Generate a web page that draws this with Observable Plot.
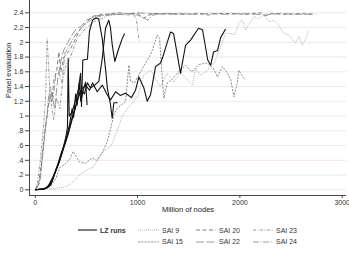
<!DOCTYPE html>
<html><head><meta charset="utf-8">
<script src="https://cdn.jsdelivr.net/npm/d3@7"></script>
<script src="https://cdn.jsdelivr.net/npm/@observablehq/plot@0.6"></script>
<style>
body{margin:0;background:#fff;}
#chart svg{display:block}
#legend{position:relative;width:349px;height:38px;font-family:"Liberation Sans",Arial,sans-serif;font-size:7px;color:#333}
#legend .item{position:absolute;display:flex;align-items:center;height:10px;white-space:nowrap}
#legend svg{display:block;margin-right:3px}
</style></head><body>
<div id="chart"></div>
<div id="legend"></div>
<script>
// ---- data (million of nodes, panel evaluation) ----
const lzRun1 = [[0,0],[80,0.01],[140,0.05],[190,0.22],[230,0.36],[270,0.55],[300,0.72],[315,0.85],[322,1.78],[332,1.0],[360,1.05],[390,1.2],[420,1.35],[443,1.58],[452,1.13],[465,1.76],[510,1.77],[530,2.15],[560,2.3],[590,2.33],[620,2.32],[655,2.05],[690,1.6],[705,1.38],[736,1.15],[752,0.97],[768,1.18],[805,1.18]];
const lzRun2 = [[0,0],[90,0.01],[150,0.06],[200,0.25],[240,0.4],[280,0.58],[320,0.75],[360,0.98],[390,1.1],[420,1.25],[450,1.35],[480,1.3],[510,1.45],[540,1.38],[580,1.42],[622,1.47],[655,1.78],[687,2.19],[719,2.3],[735,2.2],[753,1.96],[778,1.74],[817,1.92],[850,2.05],[873,2.12]];
const lzRun3 = [[0,0],[100,0.02],[160,0.1],[210,0.3],[250,0.45],[290,0.62],[330,0.8],[370,1.0],[400,1.15],[430,1.3],[460,1.38],[492,1.42],[530,1.35],[560,1.45],[606,1.33],[655,1.42],[700,1.3],[736,1.22],[786,1.33],[830,1.28],[883,1.31],[940,1.25],[980,1.35],[1013,1.53],[1062,1.38],[1095,1.2],[1127,1.29],[1176,1.67],[1225,1.72],[1244,1.79],[1290,2.0],[1323,2.14],[1352,2.12],[1420,1.58],[1469,1.96],[1518,2.03],[1596,2.19],[1635,2.17],[1686,1.76],[1715,1.69],[1743,1.87],[1782,1.89],[1811,2.06],[1860,2.18]];
const lzRun4 = [[0,0],[70,0.01],[120,0.03],[175,0.18],[215,0.32],[255,0.5],[295,0.66],[335,0.88],[360,1.1],[375,0.98],[395,1.3],[410,1.15],[430,1.45],[445,1.2],[470,1.35],[492,1.46],[507,1.15]];
const sai9 = [[0,0],[100,0.01],[200,0.02],[300,0.04],[350,0.08],[400,0.15],[450,0.22],[500,0.27],[560,0.3],[620,0.42],[660,0.52],[700,0.55],[750,0.62],[800,0.8],[850,1.0],[900,1.1],[950,1.18],[1000,1.26],[1062,1.56],[1127,1.62],[1180,1.5],[1225,1.4],[1290,1.58],[1355,1.46],[1388,1.53],[1420,1.6],[1480,1.5],[1535,1.42],[1567,1.65],[1620,1.55],[1681,1.62],[1714,1.69],[1750,1.72],[1780,1.83],[1860,2.12],[1911,2.12],[1950,2.1],[1990,2.26],[2024,2.3],[2056,2.17],[2090,2.25],[2137,2.35],[2186,2.32],[2235,2.37],[2284,2.28],[2329,2.3],[2381,2.23],[2430,2.12],[2476,2.1],[2544,1.99],[2577,2.08],[2610,1.96],[2642,2.05],[2675,2.17]];
const sai15 = [[0,0],[80,0.01],[150,0.05],[200,0.15],[240,0.3],[300,0.36],[340,0.42],[370,0.52],[400,0.45],[430,0.38],[490,0.36],[557,0.43],[600,0.4],[655,0.5],[704,0.65],[740,0.85],[770,1.02],[800,1.1],[840,1.15],[883,1.2],[915,1.69],[932,1.47],[970,1.45],[1000,1.53],[1030,1.6],[1078,1.72],[1127,1.83],[1160,1.96],[1193,2.1],[1215,2.05],[1240,1.55],[1257,1.24],[1290,1.45],[1340,1.5],[1400,1.6],[1470,1.69],[1530,1.6],[1600,1.7],[1681,1.72],[1740,1.65],[1782,1.53],[1830,1.67],[1870,1.6],[1910,1.5],[1941,1.26],[1975,1.45],[1990,1.62],[2020,1.55],[2056,1.49]];
const sai20 = [[0,0],[30,0.05],[60,0.35],[90,0.75],[120,1.05],[140,1.3],[160,1.2],[185,1.5],[210,1.62],[231,1.87],[250,1.6],[280,1.8],[300,1.83],[340,1.9],[362,1.96],[394,2.05],[443,2.19],[492,2.26],[557,2.35],[620,2.37],[700,2.38],[800,2.4],[900,2.39],[1000,2.39],[1060,2.33],[1100,2.36],[1150,2.39],[1300,2.39],[1450,2.38],[1600,2.39],[1700,2.37],[1760,2.39],[1900,2.39],[2050,2.38],[2200,2.4],[2250,2.36],[2300,2.39],[2450,2.38],[2600,2.39],[2740,2.38]];
const sai22 = [[0,0],[40,0.08],[70,0.45],[100,0.85],[130,1.15],[160,1.3],[190,1.1],[220,1.5],[250,1.75],[280,1.9],[320,2.0],[360,2.1],[400,2.18],[450,2.22],[500,2.3],[550,2.33],[600,2.36],[700,2.38],[850,2.38],[1000,2.4],[1100,2.39],[1250,2.38],[1400,2.39],[1550,2.38],[1700,2.39],[1850,2.38],[2000,2.39],[2150,2.38],[2250,2.37],[2400,2.39],[2550,2.38],[2700,2.38]];
const sai23 = [[0,0],[20,0.08],[50,0.4],[80,0.85],[100,1.22],[117,2.05],[133,1.6],[150,1.22],[180,0.95],[210,1.25],[240,1.1],[270,1.5],[300,1.7],[330,1.75],[370,1.9],[410,2.05],[450,2.12],[500,2.2],[550,2.25],[600,2.3],[650,2.32],[700,2.36],[800,2.38],[900,2.37],[960,2.38],[990,2.3],[1000,2.18],[1015,2.02]];
const sai24 = [[0,0],[30,0.1],[52,0.16],[68,0.38],[84,0.61],[100,0.83],[117,1.06],[133,1.29],[150,1.4],[170,1.2],[200,1.55],[231,1.6],[260,1.45],[290,1.85],[330,1.95],[370,2.05],[420,2.15],[470,2.22],[520,2.28],[560,2.32],[620,2.35],[700,2.37],[800,2.38],[900,2.39],[1000,2.37],[1100,2.3],[1150,2.37],[1250,2.39],[1350,2.38],[1450,2.39]];

const yTicks = [0,0.2,0.4,0.6,0.8,1,1.2,1.4,1.6,1.8,2,2.2,2.4];
const yTickLabels = ["0",".2",".4",".6",".8","1","1.2","1.4","1.6","1.8","2","2.2","2.4"];
const xTicks = [0,1000,2000,3000];
const xTitle = "Million of nodes";
const yTitle = "Panel evaluation";
const legendNames = ["LZ runs","SAI 9","SAI 20","SAI 23","SAI 15","SAI 22","SAI 24"];

// ---- styles ----
const styles = {
  "LZ runs": {stroke:"#111", strokeWidth:1.1, dash:null},
  "SAI 9":  {stroke:"#b5b5b5", strokeWidth:1, dash:"1,1"},
  "SAI 15": {stroke:"#8a8a8a", strokeWidth:1, dash:"2,1.3"},
  "SAI 20": {stroke:"#7e7e7e", strokeWidth:1, dash:"4,2.5"},
  "SAI 22": {stroke:"#9a9a9a", strokeWidth:1, dash:"8,2.5"},
  "SAI 23": {stroke:"#9a9a9a", strokeWidth:1, dash:"3,1.5,1,1.5"},
  "SAI 24": {stroke:"#9a9a9a", strokeWidth:1, dash:"6,1.5,1,1.5"}
};
const series = [
  ["SAI 22", sai22], ["SAI 20", sai20], ["SAI 24", sai24], ["SAI 23", sai23],
  ["SAI 9", sai9], ["SAI 15", sai15],
  ["LZ runs", lzRun4], ["LZ runs", lzRun3], ["LZ runs", lzRun2], ["LZ runs", lzRun1]
];
const labelMap = new Map(yTicks.map((t,i)=>[t, yTickLabels[i]]));
const xDomain = [-56, 3042], yDomain = [-0.077, 2.567];

const lineMarks = series.map(([name, pts]) => {
  const s = styles[name];
  return Plot.line(pts, {x: d=>d[0], y: d=>d[1], stroke: s.stroke, strokeWidth: s.strokeWidth,
    strokeDasharray: s.dash || undefined, strokeLinejoin:"round", strokeLinecap:"butt"});
});

const chart = Plot.plot({
  width: 349, height: 216,
  marginLeft: 29, marginRight: 3, marginTop: 0, marginBottom: 21,
  x: {domain: xDomain},
  y: {domain: yDomain},
  style: {fontFamily: "'Liberation Sans', Arial, sans-serif", fontSize: "7px", color: "#333", background: "#fff"},
  marks: [
    Plot.gridY(yTicks, {stroke: "#e2edef", strokeOpacity: 1}),
    ...lineMarks,
    Plot.ruleX([xDomain[0]], {stroke: "#444"}),
    Plot.ruleY([yDomain[0]], {stroke: "#444"}),
    Plot.axisY(yTicks, {tickFormat: d => labelMap.get(d), tickSize: 4, tickPadding: 2, fontSize: 7, label: null, stroke: "#444"}),
    Plot.axisX(xTicks, {tickFormat: d => String(d), tickSize: 3, tickPadding: 2, fontSize: 7, label: null, stroke: "#444"}),
    Plot.text([yTitle], {frameAnchor: "left", rotate: -90, dx: -21, fontSize: 7.5, fill: "#222"}),
    Plot.text([xTitle], {frameAnchor: "bottom", dy: 16, fontSize: 7.5, fill: "#222"})
  ]
});
document.getElementById("chart").append(chart);

// ---- legend ----
const legendPos = {
  "LZ runs": [78, 14.3, 19], "SAI 9": [138, 14.3, 21], "SAI 20": [196, 14.3, 20], "SAI 23": [253, 14.3, 20],
  "SAI 15": [138, 25.7, 21], "SAI 22": [196, 25.7, 20], "SAI 24": [253, 25.7, 20]
};
const legend = d3.select("#legend");
legendNames.forEach(name => {
  const [lx, ly, lw] = legendPos[name];
  const s = styles[name];
  const item = legend.append("div").attr("class","item").style("left", lx+"px").style("top", (ly-5)+"px");
  const sv = item.append("svg").attr("width", lw).attr("height", 4);
  sv.append("line").attr("x1",0).attr("x2",lw).attr("y1",2).attr("y2",2)
    .attr("stroke", s.stroke).attr("stroke-width", s.strokeWidth)
    .attr("stroke-dasharray", s.dash);
  item.append("span").text(name).style("font-weight", name==="LZ runs" ? "bold" : "normal");
});
</script>
</body></html>
